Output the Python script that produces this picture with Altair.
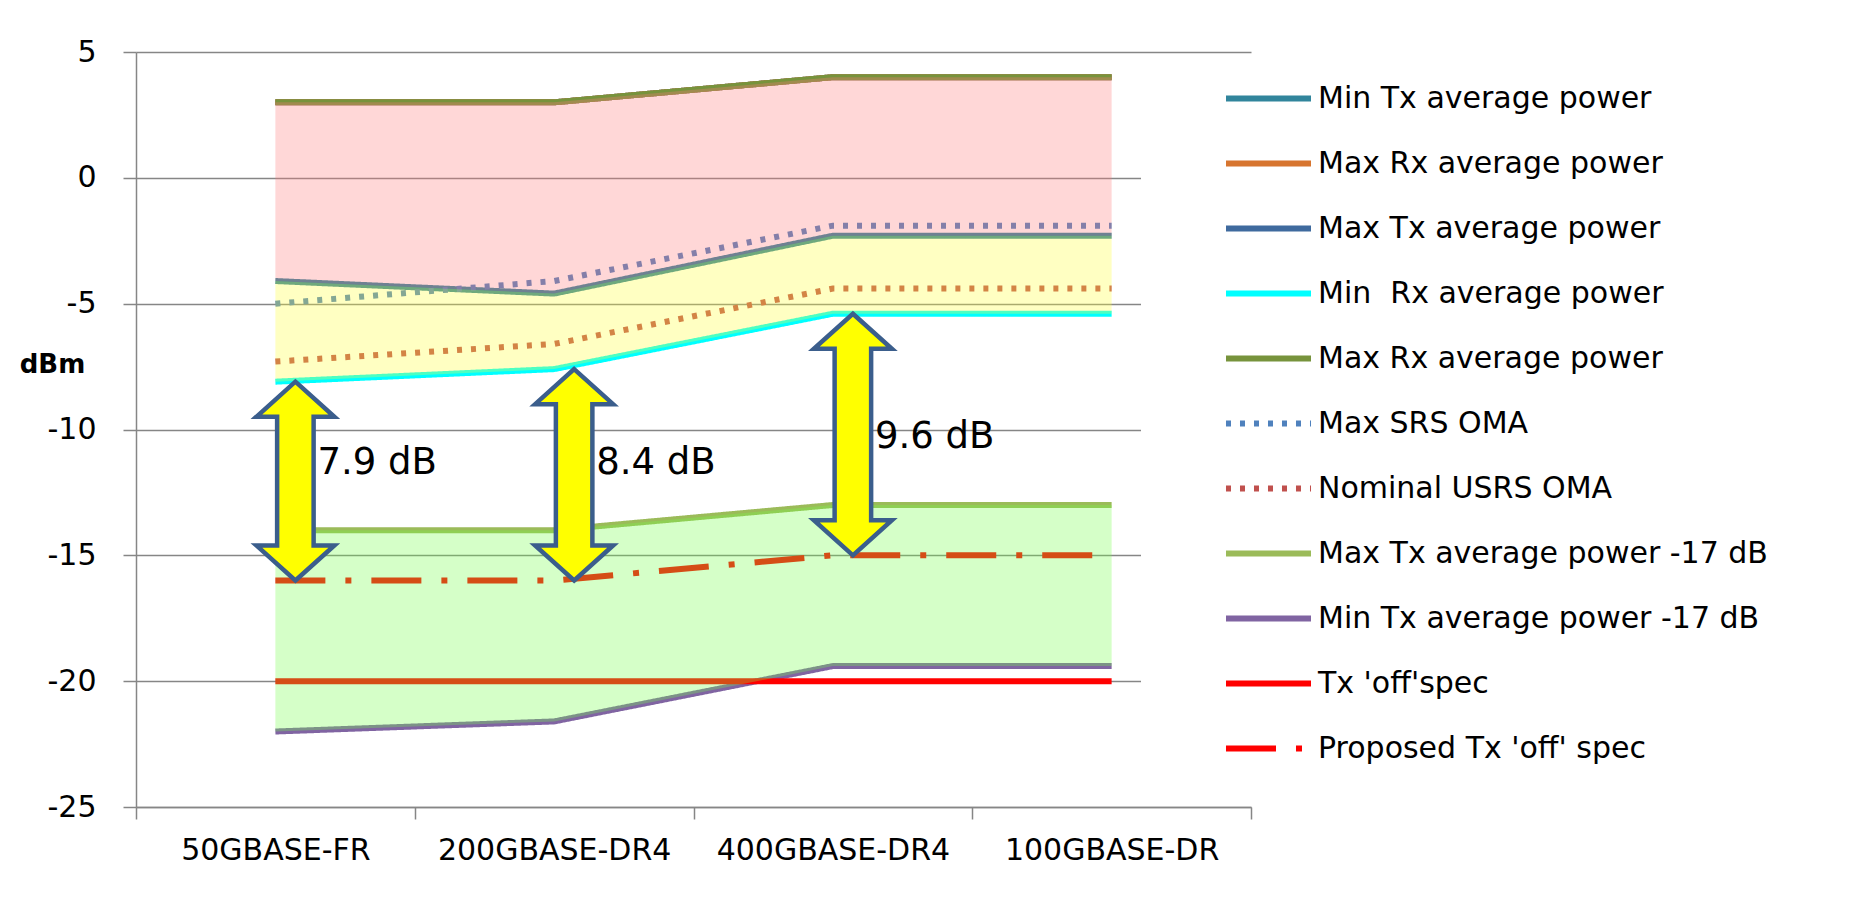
import altair as alt
import pandas as pd

categories = ["50GBASE-FR", "200GBASE-DR4", "400GBASE-DR4", "100GBASE-DR"]

series_names = [
    "Min Tx average power",
    "Max Rx average power",
    "Max Tx average power",
    "Min\u00a0 Rx average power",
    "Max Rx average power\u00a0",
    "Max SRS OMA",
    "Nominal USRS OMA",
    "Max Tx average power -17 dB",
    "Min Tx average power -17 dB",
    "Tx 'off'spec",
    "Proposed Tx 'off' spec",
]

min_tx_avg = [-4.1, -4.6, -2.3, -2.3]
max_rx_avg_orange = [3.0, 3.0, 4.0, 4.0]
max_tx_avg = [3.0, 3.0, 4.0, 4.0]
min_rx_avg = [-8.1, -7.6, -5.4, -5.4]
max_rx_avg_olive = [3.0, 3.0, 4.0, 4.0]
max_srs_oma = [-5.0, -4.1, -1.9, -1.9]
nominal_usrs_oma = [-7.3, -6.6, -4.4, -4.4]
max_tx_m17 = [-14.0, -14.0, -13.0, -13.0]
min_tx_m17 = [-22.0, -21.6, -19.4, -19.4]
tx_off = [-20.0, -20.0, -20.0, -20.0]
proposed_off = [-16.0, -16.0, -15.0, -15.0]

series_values = [min_tx_avg, max_rx_avg_orange, max_tx_avg, min_rx_avg, max_rx_avg_olive,
                 max_srs_oma, nominal_usrs_oma, max_tx_m17, min_tx_m17, tx_off, proposed_off]

colors = ["#31859C", "#D7752F", "#3F6A9E", "#00FFFF", "#77933C", "#4F81BD", "#C0504D",
          "#9BBB59", "#8064A2", "#FF0000", "#FF0000"]
dotted = [5, 9]
dashdot = [50, 20, 6, 20]
solid = [1, 0]
dashes = [solid, solid, solid, solid, solid, dotted, dotted, solid, solid, solid, dashdot]

gap_labels = ["7.9 dB", "8.4 dB", "9.6 dB"]

rows = []
for name, vals in zip(series_names, series_values):
    for c, v in zip(categories, vals):
        rows.append({"series": name, "cat": c, "value": v})
df = pd.DataFrame(rows)

wide = pd.DataFrame({
    "cat": categories,
    "max_rx": max_rx_avg_olive,
    "min_tx": min_tx_avg,
    "min_rx": min_rx_avg,
    "max_tx17": max_tx_m17,
    "min_tx17": min_tx_m17,
})

arrows = pd.DataFrame({
    "cat": categories[:3],
    "top": min_rx_avg[:3],
    "bottom": proposed_off[:3],
    "label": gap_labels,
})

GRID = "#868686"
FONT = "DejaVu Sans"

x_axis = alt.Axis(title=None, tickBand="extent", grid=False, domainColor=GRID, domainWidth=1.5,
                  tickColor=GRID, tickWidth=1.5, tickSize=12, labelFont=FONT, labelFontSize=30,
                  labelColor="black", labelPadding=16, labelAngle=0, labelLimit=400)
y_axis = alt.Axis(title="dBm", values=[-25, -20, -15, -10, -5, 0, 5], grid=True, gridColor=GRID,
                  gridWidth=1.5, domainColor=GRID, domainWidth=1.5, tickColor=GRID, tickWidth=1.5,
                  tickSize=13, labelFont=FONT, labelFontSize=30, labelColor="black", labelPadding=27,
                  labelExpr="toString(datum.value)",
                  titleAngle=0, titleFont=FONT, titleFontSize=26, titleFontWeight="bold",
                  titleColor="black", titleX=-84, titleY=312, titleAlign="center",
                  titleBaseline="middle")
x_scale = alt.Scale(type="band", domain=categories, paddingInner=0, paddingOuter=0)
y_scale = alt.Scale(domain=[-25, 5], nice=False, zero=False)


def xenc():
    return alt.X("cat:N", sort=categories, bandPosition=0.5, scale=x_scale, axis=x_axis)


def yenc(field):
    return alt.Y(field, type="quantitative", scale=y_scale, axis=y_axis)


legend = alt.Legend(orient="none", legendX=1005, legendY=9, fillColor="white", padding=20,
                    symbolType="M-3,0H3", symbolSize=803, symbolStrokeWidth=6,
                    symbolOffset=90, labelOffset=32, rowPadding=32, labelFont=FONT,
                    labelFontSize=30, labelColor="black", labelLimit=800)

color_enc = alt.Color("series:N", title=None,
                      scale=alt.Scale(domain=series_names, range=colors), legend=legend)
dash_enc = alt.StrokeDash("series:N", title=None,
                          scale=alt.Scale(domain=series_names, range=dashes), legend=legend)

draw_order = [2, 1, 4, 0, 5, 6, 3, 7, 8, 9, 10]
layers = []
for i in draw_order:
    layers.append(
        alt.Chart(df)
        .transform_filter(alt.FieldEqualPredicate(field="series", equal=series_names[i]))
        .mark_line(strokeWidth=6)
        .encode(x=xenc(), y=yenc("value"), color=color_enc, strokeDash=dash_enc)
    )

pink = alt.Chart(wide).mark_area(color="#FF7A7A", opacity=0.3).encode(
    x=xenc(), y=yenc("max_rx"), y2="min_tx:Q")
yellow = alt.Chart(wide).mark_area(color="#FFFF34", opacity=0.3).encode(
    x=xenc(), y=yenc("min_tx"), y2="min_rx:Q")
green = alt.Chart(wide).mark_area(color="#73FF48", opacity=0.3).encode(
    x=xenc(), y=yenc("max_tx17"), y2="min_tx17:Q")

ARROW_DARK = "#3B5E8C"
AX = 20
shaft_dark = alt.Chart(arrows).mark_rule(color=ARROW_DARK, strokeWidth=41, xOffset=AX,
                                         yOffset=34, y2Offset=-34).encode(
    x=xenc(), y=yenc("top"), y2="bottom:Q")
head_up = alt.Chart(arrows).mark_point(shape="M0,0L1,0.9L-1,0.9Z", size=6084, filled=True,
                                       fill="#FFFF00", stroke=ARROW_DARK, strokeWidth=4.5,
                                       opacity=1, xOffset=AX).encode(x=xenc(), y=yenc("top"))
head_down = alt.Chart(arrows).mark_point(shape="M0,0L1,-0.9L-1,-0.9Z", size=6084, filled=True,
                                         fill="#FFFF00", stroke=ARROW_DARK, strokeWidth=4.5,
                                         opacity=1, xOffset=AX).encode(x=xenc(), y=yenc("bottom"))
shaft_yellow = alt.Chart(arrows).mark_rule(color="#FFFF00", strokeWidth=32, xOffset=AX,
                                           yOffset=32, y2Offset=-32).encode(
    x=xenc(), y=yenc("top"), y2="bottom:Q")
labels = alt.Chart(arrows).mark_text(align="left", baseline="middle", font=FONT, fontSize=37,
                                     color="black", dx=42, dy=-118).encode(
    x=xenc(), y=yenc("bottom"), text="label:N")

chart = alt.layer(*layers, pink, yellow, green, shaft_dark, head_up, head_down, shaft_yellow,
                  labels).properties(
    width=1115, height=755,
    autosize=alt.AutoSizeParams(type="none"),
    padding={"left": 128, "top": 44, "right": 584, "bottom": 80},
    background="white",
).configure_view(stroke="transparent")

chart.save("out.html", embed_options={"renderer": "svg", "actions": False})
